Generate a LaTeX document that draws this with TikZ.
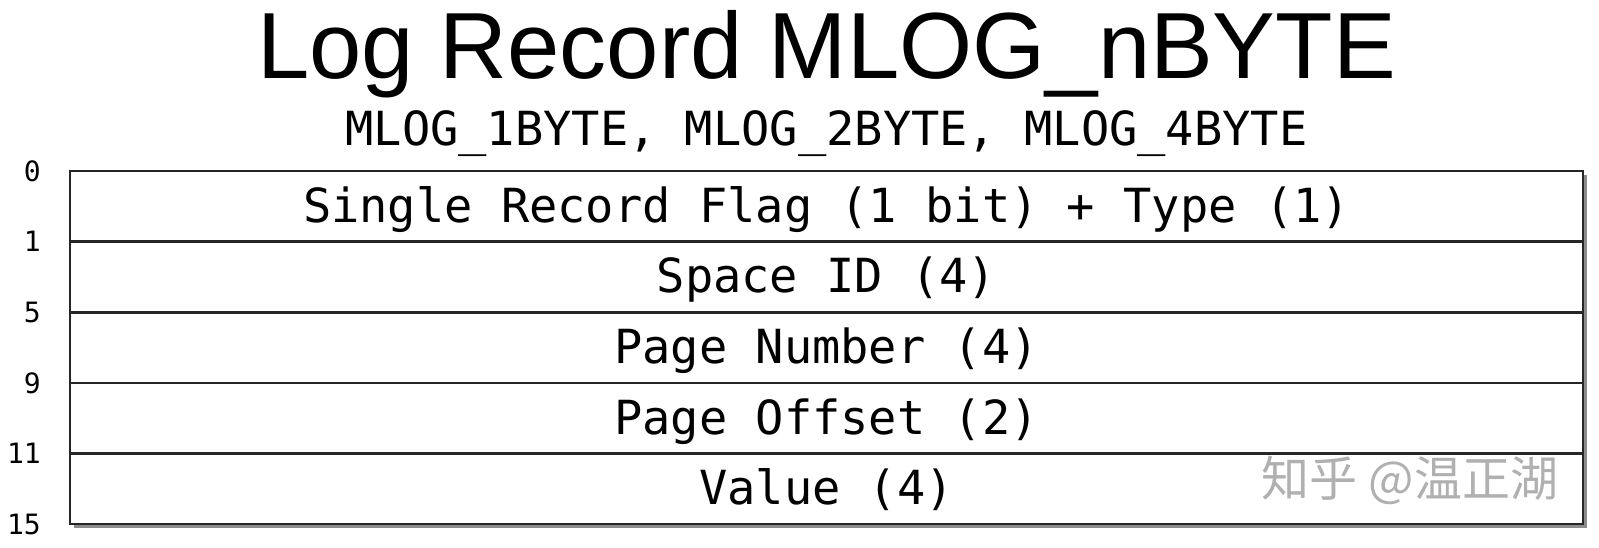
\documentclass[tikz,border=0pt]{standalone}
\usepackage{fontspec}
\usetikzlibrary{positioning,backgrounds}
\newfontfamily\titlefont{Liberation Sans}
\newfontfamily\monofont{DejaVu Sans Mono}
\newfontfamily\cjkfont{Noto Sans CJK SC}
\definecolor{markgray}{HTML}{B0B0B0}
\begin{document}
\begin{tikzpicture}[x=1pt,y=-1pt,
    field/.style={draw=black!85,line width=2.6pt,fill=white,rectangle,outer sep=0pt,
      minimum width=1513pt,minimum height=70.6pt,inner sep=0pt,text height=40pt,text depth=8pt,
      font=\monofont\fontsize{47}{50}\selectfont},
    offset/.style={anchor=east,inner sep=0pt,font=\monofont\fontsize{28}{30}\selectfont}]
  \useasboundingbox (0,0) rectangle (1599,547);

  \node[anchor=base,inner sep=0pt,font=\titlefont\fontsize{94}{100}\selectfont] (title) at (826.5,78) {Log Record MLOG\_nBYTE};
  \node[anchor=base,inner sep=0pt,font=\monofont\fontsize{47}{50}\selectfont] (sub) at (826.5,145) {MLOG\_1BYTE, MLOG\_2BYTE, MLOG\_4BYTE};

  \node[field,anchor=north] (flag) at (826.5,171) {Single Record Flag (1 bit) + Type (1)};
  \node[field,below=0pt of flag] (space) {Space ID (4)};
  \node[field,below=0pt of space] (page) {Page Number (4)};
  \node[field,below=0pt of page] (poff) {Page Offset (2)};
  \node[field,below=0pt of poff] (value) {Value (4)};

  \begin{scope}[on background layer]
    \fill[black!45] ([shift={(4pt,-4pt)}]flag.north west) rectangle ([shift={(4pt,-4pt)}]value.south east);
  \end{scope}

  % byte offsets
  \node[offset,left=29pt of flag.north west] (o0) {0};
  \node[offset,left=29pt of space.north west] (o1) {1};
  \node[offset,left=29pt of page.north west] (o5) {5};
  \node[offset,left=29pt of poff.north west] (o9) {9};
  \node[offset,left=29pt of value.north west] (o11) {11};
  \node[offset,left=29pt of value.south west] (o15) {15};

  \node[font=\cjkfont\fontsize{48}{50}\selectfont,text=markgray,inner sep=0pt] (mark) at (1410,480) {知乎 @温正湖};
\end{tikzpicture}
\end{document}
